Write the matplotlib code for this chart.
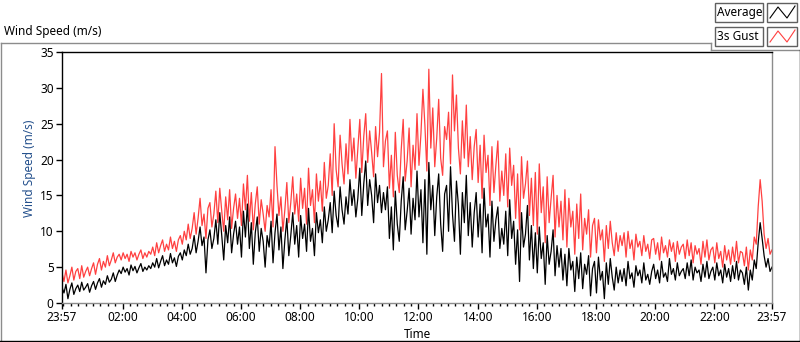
import numpy as np
import matplotlib
matplotlib.use("Agg")
import matplotlib.pyplot as plt
from matplotlib.lines import Line2D
from matplotlib.patches import Rectangle

plt.rcParams["font.family"] = ["Noto Sans", "DejaVu Sans"]
plt.rcParams["font.size"] = 8

# 4-minute samples from 23:57 to 23:57 next day (one row = one hour)
average = [
    2.2, 1.4, 2.6, 0.6, 1.9, 2.8, 1.2, 2.0, 2.5, 1.6, 2.9, 1.8, 2.2, 2.7, 1.5,
    2.4, 3.0, 1.9, 2.8, 3.4, 2.2, 3.1, 2.6, 3.8, 2.9, 3.3, 4.2, 3.0, 3.9, 4.6,
    4.1, 5.0, 4.3, 4.8, 3.9, 5.3, 4.5, 5.1, 4.2, 4.9, 5.5, 4.4, 5.0, 4.6, 5.2,
    4.8, 5.6, 5.0, 6.2, 4.9, 5.8, 6.6, 5.2, 6.0, 5.4, 6.9, 5.6, 6.3, 5.1, 6.5,
    7.0, 6.0, 7.4, 6.6, 8.2, 6.8, 7.6, 9.4, 7.0, 8.6, 10.6, 8.0, 9.2, 4.2, 8.8,
    10.2, 7.6, 9.0, 11.6, 8.2, 12.6, 9.4, 6.0, 10.8, 8.4, 12.0, 7.0, 9.6, 11.4, 8.2,
    10.6, 6.4, 12.8, 9.2, 13.8, 7.6, 11.2, 5.4, 9.8, 12.0, 7.2, 10.4, 8.6, 5.0, 9.4,
    7.8, 11.4, 5.6, 9.8, 12.4, 7.4, 10.6, 4.8, 8.8, 11.8, 6.6, 9.4, 12.6, 8.2, 10.8,
    6.4, 12.2, 9.0, 11.0, 7.2, 13.2, 8.6, 10.4, 6.6, 12.6, 9.8, 11.6, 8.4, 13.4, 10.0,
    11.6, 14.0, 9.8, 15.6, 12.2, 10.6, 16.2, 13.0, 11.0, 14.8, 12.4, 17.2, 13.6, 15.8, 12.0,
    14.6, 18.8, 12.2, 16.6, 19.8, 13.6, 17.2, 15.0, 11.2, 18.0, 14.0, 16.4, 12.6, 15.4, 13.0,
    16.2, 9.0, 13.4, 7.4, 15.6, 11.0, 8.6, 14.2, 17.6, 10.2, 12.8, 16.0, 9.6, 14.6, 11.6,
    18.4, 12.0, 15.8, 8.4, 17.2, 6.8, 19.6, 13.0, 16.4, 9.4, 14.8, 18.0, 11.0, 7.2, 15.2,
    16.4, 10.0, 19.0, 12.4, 8.6, 17.0, 13.6, 6.8, 15.4, 11.2, 17.8, 9.4, 14.0, 7.8, 12.6,
    15.4, 9.2, 13.8, 7.0, 16.0, 10.6, 12.4, 6.4, 14.2, 8.6, 11.6, 13.4, 7.6, 10.4, 8.2,
    12.8, 6.6, 14.4, 9.0, 11.4, 5.4, 10.2, 3.0, 12.6, 7.8, 9.6, 13.6, 6.0, 10.8, 4.8,
    9.8, 4.2, 10.6, 6.2, 8.4, 2.6, 9.4, 5.4, 7.2, 10.2, 3.8, 8.0, 5.0, 7.6, 3.2,
    6.8, 2.4, 7.6, 4.6, 5.8, 1.6, 6.4, 3.4, 7.0, 2.0, 5.4, 4.0, 6.6, 1.0, 4.8,
    5.8, 1.4, 6.4, 3.2, 4.4, 0.6, 5.6, 2.6, 6.2, 3.6, 1.8, 5.0, 2.8, 4.6, 3.0,
    4.8, 2.4, 5.8, 3.4, 4.2, 2.2, 5.2, 3.8, 4.6, 2.8, 5.6, 3.2, 4.0, 2.6, 4.4,
    5.4, 3.4, 4.6, 2.8, 5.8, 3.6, 4.2, 3.0, 6.2, 4.0, 4.8, 3.2, 5.6, 3.8, 4.4,
    4.8, 3.4, 5.6, 3.8, 6.0, 3.2, 5.0, 4.2, 4.6, 3.0, 5.4, 3.6, 5.8, 3.4, 4.4,
    5.0, 3.2, 5.6, 3.8, 4.6, 2.8, 5.4, 3.6, 4.8, 3.0, 5.2, 3.4, 5.8, 3.2, 4.6,
    4.2, 2.6, 5.0, 1.8, 4.6, 3.2, 6.0, 4.8, 8.4, 11.2, 9.0, 6.6, 5.0, 6.2, 4.4,
    5.0,
]

gust = [
    4.2, 3.0, 4.6, 2.8, 3.8, 5.0, 3.2, 4.4, 4.8, 3.4, 5.2, 3.6, 4.4, 5.0, 3.8,
    4.8, 5.6, 4.0, 5.4, 6.2, 4.6, 5.8, 5.0, 6.6, 5.2, 6.0, 7.0, 5.6, 6.4, 6.8,
    6.0, 7.0, 6.2, 6.8, 5.8, 7.2, 6.4, 7.0, 6.0, 6.8, 7.4, 6.2, 7.0, 6.4, 7.2,
    6.8, 7.8, 6.6, 8.4, 7.0, 8.0, 8.8, 7.2, 8.2, 7.4, 9.2, 7.6, 8.6, 7.2, 8.8,
    9.4, 8.2, 10.0, 8.8, 11.0, 9.0, 10.4, 12.6, 9.6, 11.8, 14.6, 10.8, 12.4, 9.0, 13.2,
    14.0, 10.6, 12.4, 15.6, 11.2, 16.0, 12.8, 10.0, 14.8, 11.6, 15.8, 10.4, 13.2, 15.2, 11.8,
    14.6, 10.8, 16.6, 13.0, 17.8, 11.4, 15.4, 10.2, 13.8, 16.2, 11.0, 14.4, 12.4, 10.0, 13.6,
    12.0, 15.8, 10.6, 21.8, 16.4, 12.2, 14.8, 10.0, 13.0, 16.8, 11.2, 14.0, 17.6, 12.4, 15.2,
    11.4, 17.4, 13.2, 16.0, 11.0, 18.8, 13.6, 15.8, 11.2, 18.0, 14.2, 17.0, 12.8, 19.6, 14.6,
    16.4, 20.8, 15.0, 25.0, 18.6, 16.2, 23.4, 19.4, 16.6, 22.2, 18.0, 25.6, 19.8, 23.0, 17.4,
    21.4, 25.6, 18.2, 23.2, 26.4, 19.6, 24.0, 21.0, 17.6, 24.6, 20.4, 23.8, 32.0, 19.0, 22.6,
    24.0, 16.0, 20.6, 14.8, 23.8, 17.8, 15.4, 21.4, 25.6, 17.0, 19.8, 24.4, 16.2, 22.0, 18.6,
    26.4, 19.2, 23.6, 29.8, 24.8, 18.4, 32.6, 21.6, 27.2, 19.0, 23.0, 28.4, 20.2, 17.8, 24.6,
    22.8, 26.6, 19.4, 31.8, 24.0, 29.0, 21.6, 18.0, 25.4, 20.2, 27.6, 19.0, 23.2, 17.2, 21.8,
    24.2, 16.8, 22.0, 14.6, 23.4, 18.2, 20.6, 13.6, 21.8, 15.4, 19.2, 22.6, 14.2, 18.4, 15.0,
    20.8, 13.4, 21.6, 16.4, 19.2, 11.8, 18.0, 10.2, 20.4, 14.6, 16.6, 19.8, 12.2, 17.4, 10.8,
    18.2, 9.6, 19.4, 12.6, 16.2, 8.4, 17.6, 11.2, 14.6, 17.8, 9.2, 15.0, 10.6, 14.2, 8.8,
    15.8, 7.8, 14.6, 10.6, 12.8, 6.8, 13.8, 9.0, 15.2, 7.4, 11.8, 9.6, 13.0, 6.4, 10.8,
    11.8, 7.0, 11.6, 8.8, 10.2, 5.8, 10.8, 7.6, 11.4, 8.4, 6.6, 9.8, 7.2, 9.4, 8.0,
    9.8, 6.4, 10.0, 7.6, 8.8, 6.0, 9.6, 7.8, 8.6, 6.6, 9.4, 7.2, 8.2, 6.2, 8.8,
    9.0, 6.8, 8.4, 6.0, 9.2, 7.0, 8.0, 6.4, 8.8, 7.2, 8.4, 5.8, 8.6, 6.8, 7.8,
    8.2, 6.2, 8.8, 6.6, 8.4, 5.6, 8.0, 6.8, 7.6, 5.4, 8.6, 6.4, 8.8, 6.0, 7.4,
    7.8, 5.6, 8.4, 6.2, 7.2, 5.0, 8.0, 6.0, 7.4, 5.4, 7.8, 5.8, 8.6, 5.6, 7.2,
    7.0, 5.2, 7.8, 4.6, 7.4, 6.0, 9.2, 8.2, 13.4, 17.2, 14.2, 9.6, 7.6, 9.0, 6.8,
    7.4,
]

# hours after 23:57
avg_hours = np.arange(len(average)) * 4 / 60
gust_hours = np.arange(len(gust)) * 4 / 60

tick_hours = [0, 2.05, 4.05, 6.05, 8.05, 10.05, 12.05, 14.05, 16.05, 18.05, 20.05, 22.05, 24]
tick_labels = ["23:57", "02:00", "04:00", "06:00", "08:00", "10:00", "12:00",
               "14:00", "16:00", "18:00", "20:00", "22:00", "23:57"]

fig = plt.figure(figsize=(8, 3.42), dpi=100)
W, H = 800, 342

def fx(px):
    return px / W

def fy(py):
    return 1 - py / H

ax = fig.add_axes([fx(62), fy(303), fx(772) - fx(62), fy(52) - fy(303)])
ax.plot(gust_hours, gust, color="#ff4040", lw=0.9)
ax.plot(avg_hours, average, color="black", lw=0.9)

ax.set_xlim(0, 24)
ax.set_ylim(0, 35)
ax.set_yticks(range(0, 36, 5))
ax.set_xticks(tick_hours)
ax.set_xticklabels(tick_labels)
ax.set_xticks(np.arange(0.05, 24, 0.25), minor=True)
ax.tick_params(axis="both", which="major", direction="out", length=4, width=1, pad=2,
               colors="black", labelsize=8.5)
ax.tick_params(axis="x", which="minor", direction="out", length=2.5, width=1)

for s in ["top", "left"]:
    ax.spines[s].set_color("black")
for s in ["bottom", "right"]:
    ax.spines[s].set_color("#8c8c8c")
for s in ax.spines.values():
    s.set_linewidth(1)

# labels
fig.text(fx(30), fy(168), "Wind Speed (m/s)", rotation=90, ha="center", va="center",
         color="#24508c", fontsize=8.5)
fig.text(fx(417), fy(334), "Time", ha="center", va="center", fontsize=8.5)
fig.text(fx(4), fy(32), "Wind Speed (m/s)", ha="left", va="center", fontsize=8.5)

# outer frame (LabVIEW style)
gray = "#8c8c8c"
fig.add_artist(Line2D([fx(0.5), fx(711)], [fy(42.5), fy(42.5)], color=gray, lw=1))
fig.add_artist(Line2D([fx(0.5), fx(0.5)], [fy(42.5), fy(342)], color=gray, lw=1))
fig.add_artist(Line2D([fx(711), fx(800)], [fy(49.5), fy(49.5)], color=gray, lw=1))
fig.add_artist(Line2D([fx(711), fx(711)], [fy(42.5), fy(49.5)], color=gray, lw=1))
fig.add_artist(Line2D([fx(799.5), fx(799.5)], [fy(50), fy(341)], color="black", lw=1))
fig.add_artist(Line2D([fx(0), fx(800)], [fy(340.5), fy(340.5)], color="black", lw=1))

# legend boxes
for row, (name, col) in enumerate([("Average", "black"), ("3s Gust", "#ff4040")]):
    top = 3 + row * 24
    fig.add_artist(Rectangle((fx(715), fy(top + 19)), fx(48), fy(0) - fy(19),
                             facecolor="white", edgecolor="#606060", lw=1))
    fig.text(fx(717), fy(top + 9.5), name, ha="left", va="center", fontsize=8.5)
    fig.add_artist(Rectangle((fx(767), fy(top + 19)), fx(30), fy(0) - fy(19),
                             facecolor="white", edgecolor="#606060", lw=1))
    fig.add_artist(Line2D([fx(770), fx(778), fx(787), fx(795)],
                          [fy(top + 15), fy(top + 4), fy(top + 15), fy(top + 3)],
                          color=col, lw=0.8))

fig.savefig("out.png", dpi=100)
